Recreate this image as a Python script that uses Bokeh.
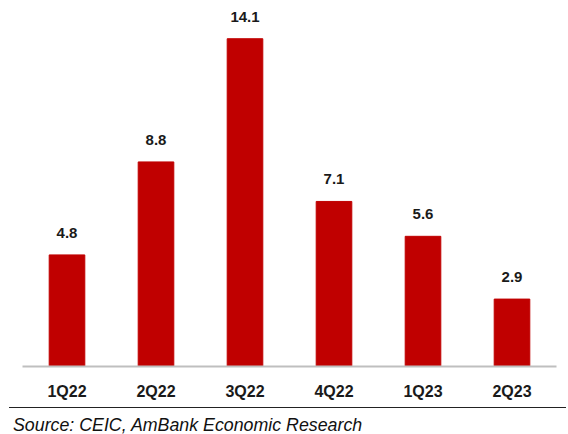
from bokeh.plotting import figure
from bokeh.models import ColumnDataSource, Div
from bokeh.layouts import column
from bokeh.embed import file_html
from bokeh.resources import INLINE
from bokeh.core.properties import value

quarters = ["1Q22", "2Q22", "3Q22", "4Q22", "1Q23", "2Q23"]
values = [4.8, 8.8, 14.1, 7.1, 5.6, 2.9]
value_labels = ["4.8", "8.8", "14.1", "7.1", "5.6", "2.9"]
source_text = "Source: CEIC, AmBank Economic Research"

src = ColumnDataSource(dict(q=quarters, v=values, lab=value_labels))

p = figure(x_range=quarters, y_range=(0, 15.4), width=566, height=407,
           output_backend="svg", toolbar_location=None,
           min_border_left=22, min_border_right=10, min_border_top=8,
           min_border_bottom=41)
p.vbar(x="q", top="v", width=0.4, source=src, color="#C00000")
p.text(x="q", y="v", text="lab", source=src, text_align="center",
       text_baseline="alphabetic", y_offset=-22, text_font=value("Liberation Sans"),
       text_font_style="bold", text_font_size="15px", text_color="#1a1a1a")

p.yaxis.visible = False
p.xgrid.visible = False
p.ygrid.visible = False
p.outline_line_color = None
ax = p.xaxis[0]
ax.axis_line_color = "#BFBFBF"
ax.axis_line_width = 2
ax.major_tick_line_color = None
ax.minor_tick_line_color = None
ax.major_label_standoff = 10
ax.major_label_text_font = "Liberation Sans"
ax.major_label_text_font_style = "bold"
ax.major_label_text_font_size = "16px"
ax.major_label_text_color = "#1a1a1a"

div = Div(text=source_text, width=557, height=26, margin=(0, 0, 0, 9),
          styles={"border-top": "1px solid #222", "font-family": "Liberation Sans",
                  "font-style": "italic", "font-size": "17.8px", "color": "#111",
                  "padding-top": "7px", "padding-left": "4px", "box-sizing": "border-box",
                  "width": "557px", "line-height": "20px"})

layout = column(p, div, spacing=0)
open("out.html", "w").write(file_html(layout, INLINE))
